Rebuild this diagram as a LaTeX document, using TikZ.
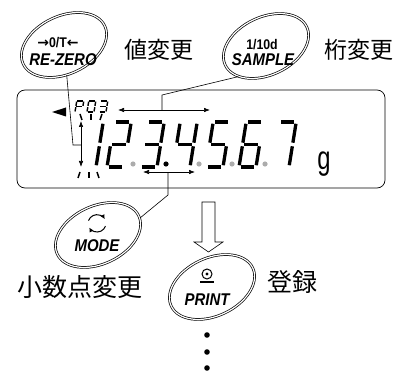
\documentclass[tikz,border=0pt]{standalone}
\usepackage{fontspec}
\setmainfont{Liberation Sans}
\newfontfamily\keyfont[FakeStretch=0.88]{Liberation Sans}
\newfontfamily\unitfont[FakeStretch=0.72]{Liberation Sans}
\newfontfamily\arrowfont{DejaVu Sans}
\newfontfamily\cjk{Noto Sans CJK JP}
\usetikzlibrary{shapes.geometric, arrows.meta}

% 7-segment pieces (local units, v upwards)
\def\dsega{(0,\dh) -- (\dw,\dh)}
\def\dsegb{(\dw,\dh) -- (\dw,\dh/2)}
\def\dsegc{(\dw,\dh/2) -- (\dw,0)}
\def\dsegd{(0,0) -- (\dw,0)}
\def\dsege{(0,0) -- (0,\dh/2)}
\def\dsegf{(0,\dh/2) -- (0,\dh)}
\def\dsegg{(0,\dh/2) -- (\dw,\dh/2)}
\newcommand{\segdraw}[1]{\draw[seg] #1;}
\newcommand{\segdigit}[3]{%
  \begin{scope}[shift={(#1,#2)}, y=1pt, xslant=0.16]
    \foreach \s in {#3} {\expandafter\segdraw\csname dseg\s\endcsname}
  \end{scope}}

\begin{document}
\begin{tikzpicture}[x=1pt, y=-1pt]

    % Styles for keys, labels and display marks
    \tikzset{
      keyoval/.style={ellipse, draw, double, double distance=1.2pt, line width=0.7pt,
        minimum width=90pt, minimum height=58pt, inner sep=0pt, rotate=25},
      keyname/.style={inner sep=0pt, font=\keyfont\bfseries\itshape\fontsize{17}{17}\selectfont},
      keysym/.style={inner sep=0pt, font=\keyfont\bfseries\fontsize{14}{14}\selectfont},
      lbl/.style={inner sep=0pt, font=\cjk\fontsize{23}{23}\selectfont},
      seg/.style={line width=3.3pt, shorten <=1.8pt, shorten >=1.8pt},
      dbl/.style={<->, >={Latex[length=6pt, width=4.5pt]}, line width=0.6pt},
      tick/.style={line width=1.5pt},
      dp/.style={fill=gray!65}
    }
    \useasboundingbox (0,0) rectangle (403,371);

    % --- Display panel ---
    \draw[line width=0.7pt, rounded corners=8pt] (17,90) rectangle (385,188);

    % main digits
    \def\dw{17}\def\dh{45}
    \segdigit{79}{167}{b,c}
    \segdigit{107}{167}{a,b,g,e,d}
    \segdigit{140}{167}{a,b,g,c,d}
    \segdigit{173}{167}{f,g,b,c}
    \segdigit{206}{167}{a,f,g,c,d}
    \segdigit{239}{167}{a,f,g,e,c,d}
    \segdigit{272}{167}{a,b,c}

    % decimal points
    \fill[dp] (133,164) circle (2.6pt);
    \fill (166,164) circle (2.6pt);
    \fill[dp] (199,164) circle (2.6pt);
    \fill[dp] (232,164) circle (2.6pt);
    \fill[dp] (265,164) circle (2.6pt);

    % small P03
    \begin{scope}[seg/.style={line width=1.4pt, shorten <=0.6pt, shorten >=0.6pt}]
      \def\dw{7}\def\dh{11}
      \segdigit{75}{112}{a,b,g,f,e}
      \segdigit{87}{112}{a,b,c,d,e,f}
      \segdigit{99}{112}{a,b,g,c,d}
    \end{scope}

    % blinking ticks
    \draw[tick] (80,114) -- (82,120);
    \draw[tick] (91,114) -- (91,120);
    \draw[tick] (102,114) -- (100,120);
    \draw[tick] (80,172) -- (78,178);
    \draw[tick] (89,172) -- (89,178);
    \draw[tick] (97,172) -- (99,178);

    % unit
    \node[inner sep=0pt, font=\unitfont\fontsize{33}{33}\selectfont] (unit) at (324,164) {g};

    % left marker
    \fill (52,112) -- (66,107.5) -- (66,116.5) -- cycle;

    % --- Keys ---
    \node[keyoval] (rezero) at (64,45) {};
    \node[keyoval] (sample) at (266,46) {};
    \node[keyoval] (mode) at (98,235) {};
    \node[keyoval] (print) at (212,287) {};

    \node[keysym] (rzsym) at (58,43) {{\arrowfont\bfseries→}0/T{\arrowfont\bfseries←}};
    \node[keyname] (rzname) at (63,60) {RE-ZERO};
    \node[keysym] (smsym) at (262,45) {1/10d};
    \node[keyname] (smname) at (263,60) {SAMPLE};
    \node[keyname] (mdname) at (97,246) {MODE};
    \node[keyname] (prname) at (207,300) {PRINT};

    % mode icon
    \draw[line width=1pt, -{Latex[length=4.5pt, width=4.5pt]}] (88.5,220.6) arc[start angle=160, end angle=30, radius=9pt];
    \draw[line width=1pt, -{Latex[length=4.5pt, width=4.5pt]}] (105.5,226.1) arc[start angle=-20, end angle=-150, radius=9pt];

    % print icon
    \draw[line width=1pt] (207,274) circle (5pt);
    \fill (207,274) circle (1.6pt);
    \draw[line width=1.4pt] (200,282) -- (214,282);

    % key labels
    \node[lbl] (rzlbl) at (159,50) {値変更};
    \node[lbl] (smlbl) at (359,50) {桁変更};
    \node[lbl, font=\cjk\fontsize{25}{25}\selectfont] (mdlbl) at (80,287) {小数点変更};
    \node[lbl, font=\cjk\fontsize{25}{25}\selectfont] (prlbl) at (292,282) {登録};

    % --- Arrows and connectors ---
    \coordinate (udtop) at (81,121);
    \coordinate (udbot) at (81,167);
    \coordinate (udmid) at (81,145);
    \coordinate (rzbend) at (73,145);
    \draw[dbl] (udtop) -- (udbot);
    \draw[line width=0.6pt] (rezero) -- (rzbend) -- (udmid);

    \coordinate (stl) at (118,110);
    \coordinate (str) at (210,110);
    \coordinate (stmid) at (162,110);
    \coordinate (stbend) at (162,95);
    \draw[dbl] (stl) -- (str);
    \draw[line width=0.6pt] (stmid) -- (stbend) -- (sample.203);

    \coordinate (dpl) at (143,172);
    \coordinate (dpr) at (195,172);
    \coordinate (dpmid) at (168,172);
    \coordinate (dpbend) at (168,195);
    \draw[dbl] (dpl) -- (dpr);
    \draw[line width=0.6pt] (dpmid) -- (dpbend) -- (mode.-3);

    % hollow arrow to PRINT
    \draw[line width=0.6pt] (202,202) -- (215,202) -- (215,242) -- (223,242)
      -- (208.5,252) -- (194,242) -- (202,242) -- cycle;

    % continuation dots
    \foreach \yy in {335,352,368} {\fill (207,\yy) circle (2.8pt);}
\end{tikzpicture}
\end{document}
